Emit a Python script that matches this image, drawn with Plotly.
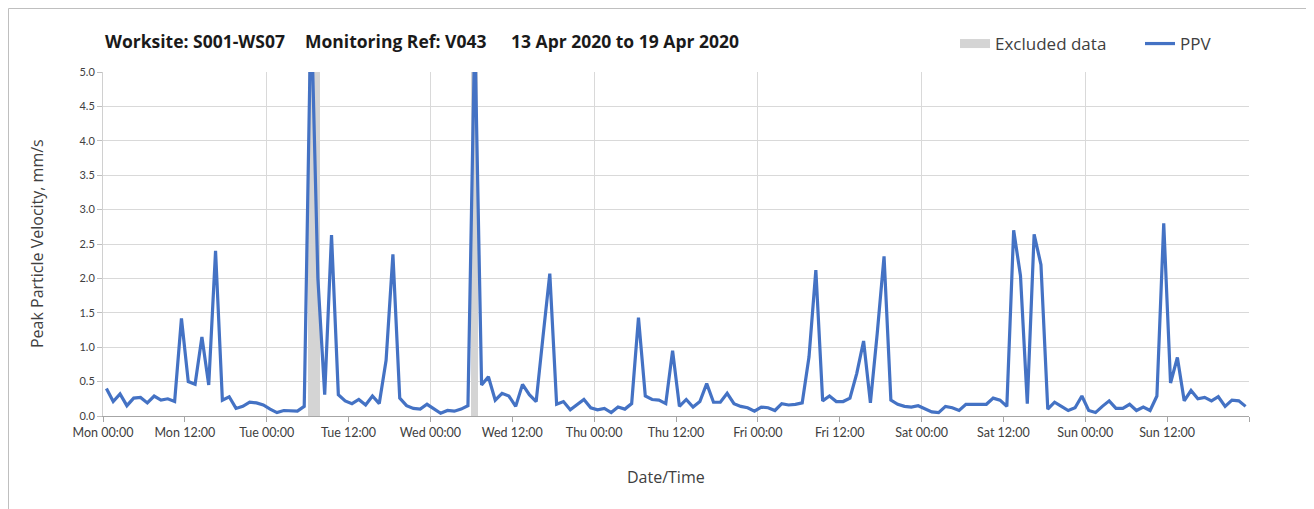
import pandas as pd
import plotly.graph_objects as go

# ---------------- data ----------------
start_time = "2020-04-13 00:30"   # hourly readings, plotted at half past each hour
ppv = [
    0.40, 0.21, 0.32, 0.15, 0.26, 0.27, 0.19, 0.29, 0.23, 0.25,
    0.21, 1.42, 0.50, 0.46, 1.15, 0.45, 2.40, 0.23, 0.28, 0.11,
    0.14, 0.20, 0.19, 0.16, 0.10, 0.05, 0.08, 0.07, 0.07, 0.14,
    6.00, 2.00, 0.31, 2.63, 0.31, 0.22, 0.18, 0.24, 0.16, 0.29,
    0.18, 0.81, 2.35, 0.26, 0.15, 0.11, 0.10, 0.17, 0.11, 0.04,
    0.08, 0.07, 0.10, 0.15, 5.60, 0.45, 0.57, 0.23, 0.33, 0.29,
    0.14, 0.46, 0.31, 0.21, 1.15, 2.07, 0.17, 0.21, 0.09, 0.17,
    0.24, 0.12, 0.09, 0.11, 0.05, 0.13, 0.10, 0.18, 1.43, 0.29,
    0.24, 0.23, 0.18, 0.95, 0.14, 0.24, 0.13, 0.21, 0.47, 0.20,
    0.20, 0.33, 0.18, 0.14, 0.12, 0.07, 0.13, 0.12, 0.08, 0.18,
    0.16, 0.17, 0.19, 0.86, 2.12, 0.22, 0.29, 0.21, 0.21, 0.26,
    0.62, 1.09, 0.19, 1.20, 2.32, 0.23, 0.17, 0.14, 0.13, 0.15,
    0.10, 0.06, 0.05, 0.14, 0.12, 0.08, 0.17, 0.17, 0.18, 0.17,
    0.26, 0.23, 0.14, 2.70, 2.04, 0.18, 2.64, 2.20, 0.10, 0.20,
    0.14, 0.08, 0.12, 0.29, 0.08, 0.05, 0.14, 0.22, 0.11, 0.11,
    0.17, 0.08, 0.13, 0.08, 0.29, 2.80, 0.48, 0.85, 0.22, 0.37,
    0.25, 0.27, 0.22, 0.28, 0.14, 0.23, 0.22, 0.14,
]
times = pd.date_range(start_time, periods=len(ppv), freq="h")

excluded_start = ["2020-04-14 06:00", "2020-04-15 06:00"]
excluded_end = ["2020-04-14 07:50", "2020-04-15 06:55"]

x_range = ["2020-04-13 00:00", "2020-04-20 00:00"]
y_range = [0, 5]

title_parts = ["Worksite: S001-WS07", "Monitoring Ref: V043", "13 Apr 2020 to 19 Apr 2020"]
y_title = "Peak Particle Velocity, mm/s"
x_title = "Date/Time"

# ---------------- styling ----------------
OFF = 8                                   # browser body margin
W, H = 1314 - OFF, 509 - OFF
L, R, T, B = 103, 1249, 72, 416           # plot area, page pixels
FONT = "Lato, 'Open Sans', sans-serif"
FONT2 = "'Open Sans', Lato, sans-serif"
BLUE = "#4472C4"
GREY_BAND = "#D4D4D4"
GRID = "#D9D9D9"


def px_x(p):
    return (p - L) / (R - L)


def px_y(p):
    return (B - p) / (B - T)


ex_s = pd.to_datetime(excluded_start)
ex_e = pd.to_datetime(excluded_end)
ex_mid = ex_s + (ex_e - ex_s) / 2
ex_w = [(e - s).total_seconds() * 1000 for s, e in zip(ex_s, ex_e)]

tick_times = pd.date_range(x_range[0], x_range[1], freq="12h")
tick_text = [t.strftime("%a %H:%M") for t in tick_times[:-1]] + [""]

fig = go.Figure()
fig.add_trace(go.Bar(
    x=ex_mid, y=[y_range[1]] * len(ex_mid), width=ex_w,
    marker=dict(color=GREY_BAND, line=dict(width=0)),
    name="Excluded data", xaxis="x", yaxis="y", hoverinfo="skip", showlegend=False,
))
# legend key for the excluded band (wide grey block like the original)
fig.add_trace(go.Scatter(
    x=[None], y=[None], mode="lines", name="Excluded data",
    line=dict(color=GREY_BAND, width=9), legend="legend", showlegend=True,
))
fig.add_trace(go.Scatter(
    x=times, y=ppv, mode="lines", name="PPV",
    line=dict(color=BLUE, width=3.2), xaxis="x2", yaxis="y", legend="legend2",
))

legend_common = dict(
    orientation="h", xanchor="left", yanchor="middle",
    font=dict(size=17, color="#404040", family=FONT2),
    bgcolor="rgba(0,0,0,0)", borderwidth=0,
)

fig.update_layout(
    width=W, height=H,
    margin=dict(l=L - OFF, r=W - (R - OFF), t=T - OFF, b=H - (B - OFF), autoexpand=False),
    paper_bgcolor="white", plot_bgcolor="white",
    font=dict(family=FONT, color="#404040"),
    bargap=0,
    showlegend=True,
    legend=dict(x=px_x(955), y=px_y(44), **legend_common),
    legend2=dict(x=px_x(1140), y=px_y(44), **legend_common),
    xaxis=dict(
        type="date", range=x_range, showgrid=False,
        tickmode="array", tickvals=tick_times, ticktext=tick_text,
        ticks="outside", ticklen=5, tickcolor="#A6A6A6",
        showline=True, linecolor="#A6A6A6", linewidth=1,
        tickfont=dict(size=12.5, color="#404040"), zeroline=False,
    ),
    xaxis2=dict(
        type="date", range=x_range, overlaying="x", matches="x", anchor="y",
        showgrid=True, gridcolor=GRID, gridwidth=1.3,
        tick0="2020-04-13", dtick=24 * 3600 * 1000,
        showticklabels=False, ticks="", showline=False, zeroline=False,
    ),
    yaxis=dict(
        range=y_range, dtick=0.5, tickformat=".1f",
        showgrid=True, gridcolor=GRID, gridwidth=1.3,
        ticks="outside", ticklen=5, tickcolor="#BFBFBF",
        showline=True, linecolor="#D0D0D0", linewidth=1,
        tickfont=dict(size=11, color="#404040"), zeroline=False,
    ),
    annotations=[
        dict(text=f"<b>{t}</b>", xref="paper", yref="paper",
             x=px_x(xp), y=px_y(41), xanchor="left", yanchor="middle", showarrow=False,
             font=dict(size=17.5, color="#1a1a1a", family=FONT2))
        for t, xp in zip(title_parts, [103, 303, 509])
    ] + [
        dict(text=y_title, xref="paper", yref="paper", x=px_x(37), y=0.5,
             xanchor="center", yanchor="middle", textangle=-90, showarrow=False,
             font=dict(size=16, color="#404040", family=FONT2)),
        dict(text=x_title, xref="paper", yref="paper", x=px_x(666), y=px_y(477),
             xanchor="center", yanchor="middle", showarrow=False,
             font=dict(size=16, color="#404040", family=FONT2)),
    ],
    shapes=[
        dict(type="rect", xref="paper", yref="paper",
             x0=px_x(OFF + 0.5), x1=px_x(1307), y0=px_y(530), y1=px_y(OFF + 0.5),
             line=dict(color="#BFBFBF", width=1), fillcolor="rgba(0,0,0,0)",
             layer="below"),
    ],
)

fig.write_html("out.html")
